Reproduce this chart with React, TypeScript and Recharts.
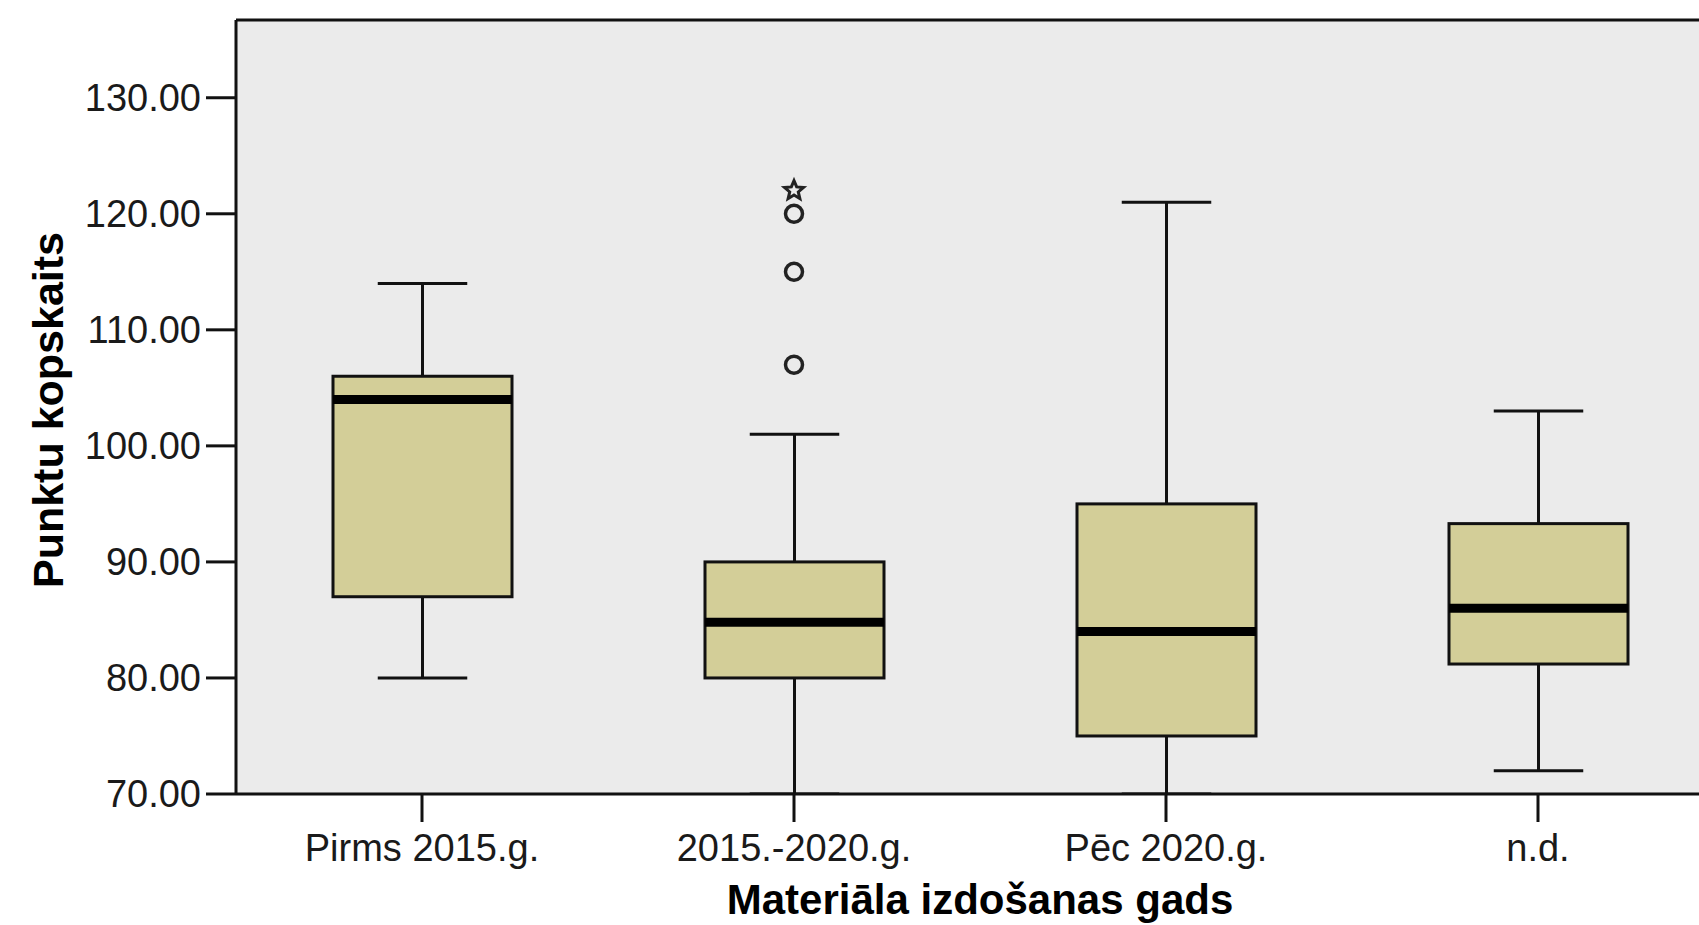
import React from 'react';
import { ComposedChart, Bar, Scatter, XAxis, YAxis, CartesianGrid, ReferenceLine } from 'recharts';

const categories = ['Pirms 2015.g.', '2015.-2020.g.', 'Pēc 2020.g.', 'n.d.'];
const whiskerLow = [80, 70, 70, 72];
const quartile1 = [87, 80, 75, 81.2];
const medians = [104, 84.8, 84, 86];
const quartile3 = [106, 90, 95, 93.3];
const whiskerHigh = [114, 101, 121, 103];
const outlierA = [null, 107, null, null];
const outlierB = [null, 115, null, null];
const outlierC = [null, 120, null, null];
const extremeA = [null, 122, null, null];
const yTicks = [70, 80, 90, 100, 110, 120, 130];
const yMin = 70;
const yMax = 136.7;

const FONT = '"Liberation Sans", Arial, Helvetica, sans-serif';
const BOX_FILL = '#d3ce98';
const BG = '#ebebeb';
const INK = '#111111';

const data = categories.map((name, i) => ({
  name,
  box: [quartile1[i], quartile3[i]],
  lo: whiskerLow[i],
  q1: quartile1[i],
  med: medians[i],
  q3: quartile3[i],
  hi: whiskerHigh[i],
  outA: outlierA[i],
  outB: outlierB[i],
  outC: outlierC[i],
  extA: extremeA[i],
}));

const BoxShape = (props: any) => {
  const { x, y, width, height, payload } = props;
  if (x == null || y == null || !payload) return <g />;
  const top = Math.min(y, y + height);
  const h = Math.abs(height);
  const ppu = h / (payload.q3 - payload.q1);
  const toY = (v: number) => top + (payload.q3 - v) * ppu;
  const cx = x + width / 2;
  const capHalf = width / 4;
  const sw = 3;
  return (
    <g>
      <line x1={cx} x2={cx} y1={toY(payload.hi)} y2={top} stroke={INK} strokeWidth={sw} />
      <line x1={cx - capHalf} x2={cx + capHalf} y1={toY(payload.hi)} y2={toY(payload.hi)} stroke={INK} strokeWidth={sw} />
      <line x1={cx} x2={cx} y1={top + h} y2={toY(payload.lo)} stroke={INK} strokeWidth={sw} />
      <line x1={cx - capHalf} x2={cx + capHalf} y1={toY(payload.lo)} y2={toY(payload.lo)} stroke={INK} strokeWidth={sw} />
      <rect x={x} y={top} width={width} height={h} fill={BOX_FILL} stroke={INK} strokeWidth={sw} />
      <line x1={x} x2={x + width} y1={toY(payload.med)} y2={toY(payload.med)} stroke="#000" strokeWidth={9} />
    </g>
  );
};

const makeCircle = (key: string) => (props: any) => {
  const { cx, cy, payload } = props;
  if (!payload || payload[key] == null || cx == null || cy == null || !isFinite(cy)) return <g />;
  return <circle cx={cx} cy={cy} r={8.5} fill="none" stroke="#222" strokeWidth={3.5} />;
};

const makeStar = (key: string) => (props: any) => {
  const { cx, cy, payload } = props;
  if (!payload || payload[key] == null || cx == null || cy == null || !isFinite(cy)) return <g />;
  const pts: string[] = [];
  for (let k = 0; k < 10; k++) {
    const r = k % 2 === 0 ? 10 : 4.5;
    const a = -Math.PI / 2 + (k * Math.PI) / 5;
    pts.push(`${cx + r * Math.cos(a)},${cy + r * Math.sin(a)}`);
  }
  return <polygon points={pts.join(' ')} fill="none" stroke="#222" strokeWidth={3} strokeLinejoin="miter" />;
};

const YTitle = (props: any) => {
  const vb = props.viewBox || {};
  const cy = (vb.y ?? 20) + (vb.height ?? 774) / 2 + 3;
  const x = 63;
  return (
    <text
      x={x}
      y={cy}
      transform={`rotate(-90, ${x}, ${cy})`}
      textAnchor="middle"
      fontFamily={FONT}
      fontWeight="bold"
      fontSize={43}
      fill="#000"
    >
      Punktu kopskaits
    </text>
  );
};

const XTitle = (props: any) => {
  const vb = props.viewBox || {};
  const cx = (vb.x ?? 236) + (vb.width ?? 1488) / 2;
  return (
    <text x={cx} y={914} textAnchor="middle" fontFamily={FONT} fontWeight="bold" fontSize={42} fill="#000">
      Materiāla izdošanas gads
    </text>
  );
};

export default function App() {
  return (
    <div
      style={{
        position: 'absolute',
        left: 0,
        top: 0,
        width: 1699,
        height: 925,
        overflow: 'hidden',
        background: '#ffffff',
      }}
    >
      <ComposedChart
        width={1740}
        height={925}
        data={data}
        margin={{ top: 20, right: 16, bottom: 0, left: 0 }}
      >
        <CartesianGrid horizontal={false} vertical={false} fill={BG} stroke="none" />
        <XAxis
          dataKey="name"
          type="category"
          height={131}
          tickSize={28}
          tickMargin={12}
          axisLine={{ stroke: INK, strokeWidth: 3 }}
          tickLine={{ stroke: INK, strokeWidth: 3 }}
          tick={{ fontSize: 38, fill: '#1a1a1a', fontFamily: FONT }}
          interval={0}
          label={<XTitle />}
        />
        <YAxis
          type="number"
          domain={[yMin, yMax]}
          ticks={yTicks}
          allowDataOverflow
          width={236}
          tickSize={30}
          tickMargin={5}
          axisLine={{ stroke: INK, strokeWidth: 3 }}
          tickLine={{ stroke: INK, strokeWidth: 3 }}
          tick={{ fontSize: 38, fill: '#1a1a1a', fontFamily: FONT }}
          tickFormatter={(v: number) => v.toFixed(2)}
          label={<YTitle />}
        />
        <ReferenceLine y={yMax} stroke={INK} strokeWidth={3} />
        <Bar dataKey="box" barSize={179} shape={<BoxShape />} isAnimationActive={false} />
        <Scatter dataKey="outA" shape={makeCircle('outA')} isAnimationActive={false} />
        <Scatter dataKey="outB" shape={makeCircle('outB')} isAnimationActive={false} />
        <Scatter dataKey="outC" shape={makeCircle('outC')} isAnimationActive={false} />
        <Scatter dataKey="extA" shape={makeStar('extA')} isAnimationActive={false} />
      </ComposedChart>
    </div>
  );
}
